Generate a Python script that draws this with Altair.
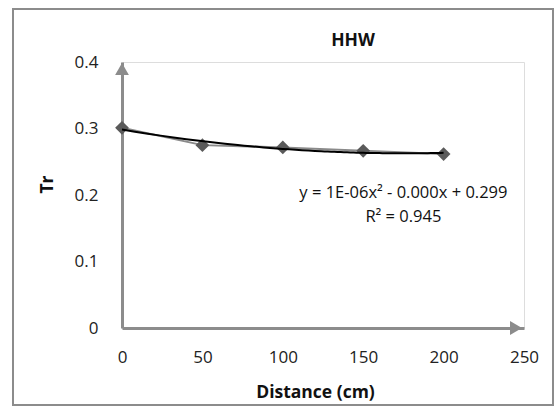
import altair as alt
import pandas as pd

distance = [0, 50, 100, 150, 200]
tr = [0.301, 0.275, 0.2715, 0.2665, 0.2615]

x_ticks = [0, 50, 100, 150, 200, 250]
y_ticks = [0, 0.1, 0.2, 0.3, 0.4]

eq_lines = ["y = 1E-06x² - 0.000x + 0.299", "R² = 0.945"]
eq_x = [175, 175]
eq_y = [0.203, 0.167]

FONT = "Open Sans"
AXIS_GRAY = "#8c8c8c"

df = pd.DataFrame({"x": distance, "y": tr})
eq_df = pd.DataFrame({"label": eq_lines, "x": eq_x, "y": eq_y})
arrow_up = pd.DataFrame({"x": [0], "y": [0.4]})
arrow_right = pd.DataFrame({"x": [250], "y": [0]})

xs = alt.Scale(domain=[0, 250], nice=False)
ys = alt.Scale(domain=[0, 0.4], nice=False)

xaxis = alt.Axis(values=x_ticks, grid=False, ticks=False, labelPadding=21,
                 domainColor=AXIS_GRAY, domainWidth=3, labelFont=FONT, labelFontSize=17,
                 labelColor="#222222", title="Distance (cm)", titleFont=FONT,
                 titleFontSize=17.5, titleFontWeight="bold", titleColor="#111111",
                 titleX=193, titleY=64, titleBaseline="middle", titleAnchor="middle",
                 labelFlush=False)
yaxis = alt.Axis(values=y_ticks, grid=False, ticks=False, labelPadding=24,
                 domainColor=AXIS_GRAY, domainWidth=3, labelFont=FONT, labelFontSize=17,
                 labelColor="#222222", title="Tr", titleFont=FONT, titleFontSize=17.5,
                 titleFontWeight="bold", titleColor="#111111", titleX=-75, titleY=122,
                 titleAngle=-90, titleBaseline="middle", titleAlign="center",
                 format="~g", labelFlush=False)

border = alt.Chart(pd.DataFrame({"a": [0]})).mark_rect(
    fill=None, stroke=AXIS_GRAY, strokeWidth=2
).encode(x=alt.value(-109), x2=alt.value(431), y=alt.value(-53), y2=alt.value(343))

base = alt.Chart(df)

axes = base.mark_point(opacity=0).encode(
    x=alt.X("x:Q", scale=xs, axis=xaxis),
    y=alt.Y("y:Q", scale=ys, axis=yaxis),
)

line = base.mark_line(color="#8a8a8a", strokeWidth=2).encode(
    x=alt.X("x:Q", scale=xs), y=alt.Y("y:Q", scale=ys))

pts = base.mark_point(shape="diamond", filled=True, size=190, color="#5a5a5a", opacity=1).encode(
    x=alt.X("x:Q", scale=xs), y=alt.Y("y:Q", scale=ys))

trend = base.transform_regression("x", "y", method="poly", order=2, extent=[0, 200]).mark_line(
    color="#000000", strokeWidth=2).encode(x=alt.X("x:Q", scale=xs), y=alt.Y("y:Q", scale=ys))

up = alt.Chart(arrow_up).mark_point(shape="triangle-up", filled=True, size=190,
                                    color=AXIS_GRAY, opacity=1, yOffset=7).encode(
    x=alt.X("x:Q", scale=xs), y=alt.Y("y:Q", scale=ys))
right = alt.Chart(arrow_right).mark_point(shape="triangle-right", filled=True, size=190,
                                          color=AXIS_GRAY, opacity=1, xOffset=-8).encode(
    x=alt.X("x:Q", scale=xs), y=alt.Y("y:Q", scale=ys))

eq = alt.Chart(eq_df).mark_text(font=FONT, fontSize=16.5, color="#111111", align="center",
                                baseline="middle").encode(
    x=alt.X("x:Q", scale=xs), y=alt.Y("y:Q", scale=ys), text="label:N")

chart = alt.layer(border, axes, line, pts, trend, up, right, eq).properties(
    width=402, height=266,
    padding={"left": 122, "top": 62, "right": 35, "bottom": 82},
    autosize=alt.AutoSizeParams(type="none"),
    title=alt.TitleParams("HHW", font=FONT, fontSize=17.5, fontWeight="bold", color="#111111",
                          anchor="middle", dx=30, dy=57, frame="group", offset=16),
).configure_view(stroke=None).configure(background="white")

chart.save("out.html", embed_options={"renderer": "svg", "actions": False})
